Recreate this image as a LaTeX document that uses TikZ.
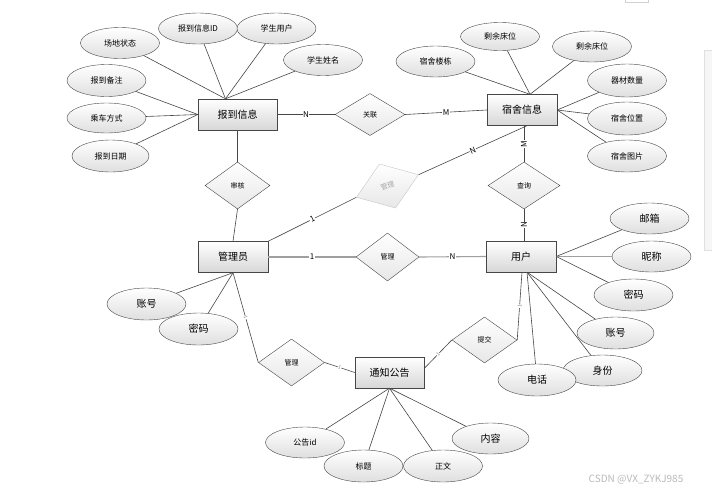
\documentclass[tikz,border=0pt]{standalone}
\usepackage{fontspec}
\setmainfont{Noto Sans CJK SC}
\usepackage{xcolor}
\usepackage{tikz}
\usetikzlibrary{
  shapes.geometric
}
\definecolor{erline}{RGB}{70,70,70}
\definecolor{erbox}{RGB}{215,215,215}

\begin{document}
\begin{tikzpicture}[
  x=1pt, y=-1pt,
  entity/.style={draw=erline, top color=white, bottom color=erbox,
                 minimum width=70pt, minimum height=31pt, inner sep=0pt,
                 font=\fontsize{10}{12}\selectfont},
  attr/.style={ellipse, draw=erline, top color=white, bottom color=erbox!80,
               minimum width=79pt, minimum height=31pt, inner sep=0pt,
               font=\fontsize{8}{10}\selectfont},
  bigattr/.style={attr, font=\fontsize{10}{12}\selectfont},
  rel/.style={diamond, draw=erline, top color=white, bottom color=erbox!60,
              minimum width=66pt, minimum height=47pt, inner sep=0pt,
              font=\fontsize{7}{8}\selectfont},
  ghost/.style={rel, draw=gray!45, text=gray!70},
  link/.style={draw=erline, line width=0.6pt},
  heavy/.style={draw=gray!75, line width=1.1pt},
  card/.style={fill=white, inner sep=0.5pt, font=\fontsize{8}{9}\selectfont},
  cardsm/.style={fill=white, inner sep=0.3pt, text=gray, sloped,
                 font=\fontsize{5}{5}\selectfont}
]
\useasboundingbox (0,0) rectangle (712,493);

% ── Page furniture ──
\fill[gray!7] (704,50) rectangle (712,250);
\draw[gray!25] (712,50) -- (704,50) -- (704,250) -- (712,250);
\draw[gray!35] (625,0) -- (625,2) -- (648,2) -- (648,0);

% ── Entities ──
\node[entity, minimum width=79pt] (bdxx) at (237.5,114.5) {报到信息};
\node[entity] (ssxx) at (522,110) {宿舍信息};
\node[entity] (gly) at (233,257) {管理员};
\node[entity] (yh) at (521,256.5) {用户};
\node[entity, minimum width=69pt] (tzgg) at (389.5,372.5) {通知公告};

% ── Relationships ──
\node[rel, minimum width=70pt, minimum height=42pt] (glian) at (370,114.5) {关联};
\node[rel, minimum width=65pt] (sh) at (237.5,185.5) {审核};
\node[ghost, rotate=20] (gli1) at (387.5,186) {管理};
\node[rel, minimum width=72pt] (cx) at (524,185.5) {查询};
\node[rel, minimum width=63pt, minimum height=48pt] (gli2) at (387.5,257) {管理};
\node[rel] (gli3) at (291.5,362.5) {管理};
\node[rel, minimum width=65pt, minimum height=46pt] (tj) at (484.5,340) {提交};

% ── Attributes of 报到信息 ──
\node[attr] (cdzt) at (120,43) {场地状态};
\node[attr] (bdid) at (198,28.5) {报到信息ID};
\node[attr] (xsyh) at (276.5,28.5) {学生用户};
\node[attr] (xsxm) at (323,60) {学生姓名};
\node[attr, minimum height=32pt] (bdbz) at (106.5,80.5) {报到备注};
\node[attr, minimum height=30pt] (ccfs) at (106.5,118) {乘车方式};
\node[attr, minimum width=77pt, minimum height=32pt] (bdrq) at (110.5,156) {报到日期};

% ── Attributes of 宿舍信息 ──
\node[attr] (ssld) at (435.5,61.5) {宿舍楼栋};
\node[attr, minimum height=28pt] (sycw1) at (500,36.5) {剩余床位};
\node[attr] (sycw2) at (592,46.5) {剩余床位};
\node[attr, minimum height=33pt] (qcsl) at (627,80.5) {器材数量};
\node[attr, minimum height=33pt] (sswz) at (627,118.5) {宿舍位置};
\node[attr, minimum height=32pt] (sstp) at (627,156) {宿舍图片};

% ── Attributes of 管理员 ──
\node[bigattr, minimum height=32pt] (zh1) at (146.5,304) {账号};
\node[bigattr, minimum height=32pt] (mm1) at (198.5,329) {密码};

% ── Attributes of 用户 ──
\node[bigattr] (yx) at (649.5,218.5) {邮箱};
\node[bigattr] (nc) at (651.5,256.5) {昵称};
\node[bigattr, minimum height=32pt] (mm2) at (633.5,295) {密码};
\node[bigattr, minimum width=77pt, minimum height=32pt] (zh2) at (615.5,333) {账号};
\node[bigattr] (sf) at (602.5,370.5) {身份};
\node[bigattr, minimum width=78pt, minimum height=32pt] (dh) at (537,380) {电话};

% ── Attributes of 通知公告 ──
\node[attr] (ggid) at (305,442.5) {公告id};
\node[attr, minimum height=32pt] (bt) at (363.5,466) {标题};
\node[attr, minimum height=32pt] (zw) at (443,466) {正文};
\node[bigattr, minimum width=77pt] (nr) at (490.5,438.5) {内容};

% ── Relationship lines ──
\draw[link] (bdxx.east) -- node[card]{N} (glian.west);
\draw[link] (glian.east) -- node[card]{M} (ssxx.west);
\draw[link] (bdxx.south) -- (sh.north);
\draw[link] (sh.south) -- (gly.north);
\draw[link] (gly.north east) -- node[card, sloped]{1} (gli1.west);
\draw[link] (gli1.east) -- node[card, sloped]{N} ([xshift=5pt]ssxx.south);
\draw[link] ([xshift=2pt]ssxx.south) -- node[card, rotate=90]{M} (cx.north);
\draw[link] (cx.south) -- node[card, rotate=90]{N} ([xshift=3pt]yh.north);
\draw[heavy] (gly.east) -- node[card]{1} (gli2.west);
\draw[heavy] (gli2.east) -- node[card]{N} (yh.west);
\draw[link] (gly.south) -- node[cardsm]{1} (gli3.west);
\draw[link] (gli3.east) -- node[cardsm]{1} (tzgg.west);
\draw[link] ([yshift=4pt]tzgg.east) -- node[cardsm]{1} (tj.west);
\draw[link] (tj.east) -- node[cardsm]{1} ([xshift=1pt]yh.south);

% ── Attribute lines ──
\coordinate (bdtop) at ([xshift=-12pt]bdxx.north);
\foreach \a in {cdzt,bdid,xsyh,xsxm}
  \draw[link] (\a) -- (bdtop);
\foreach \a in {bdbz,ccfs,bdrq}
  \draw[link] (\a) -- (bdxx.west);
\coordinate (sstop) at ([xshift=8pt]ssxx.north);
\foreach \a in {ssld,sycw1,sycw2}
  \draw[link] (\a) -- (sstop);
\foreach \a in {qcsl,sswz,sstp}
  \draw[link] (\a) -- (ssxx.east);
\foreach \a in {zh1,mm1}
  \draw[link] (\a) -- (gly.south);
\draw[link] (yx) -- (yh.east);
\draw[heavy] (nc) -- (yh.east);
\draw[link] (mm2) -- (yh.east);
\coordinate (yhbot) at ([xshift=6pt]yh.south);
\foreach \a in {zh2,sf,dh}
  \draw[link] (\a) -- (yhbot);
\foreach \a in {ggid,bt,zw,nr}
  \draw[link] (\a) -- (tzgg.south);

% ── Watermark ──
\node[text=gray!55, font=\fontsize{10}{12}\selectfont] (mark) at (636,480)
  {CSDN @VX\_ZYKJ985};

\end{tikzpicture}
\end{document}
